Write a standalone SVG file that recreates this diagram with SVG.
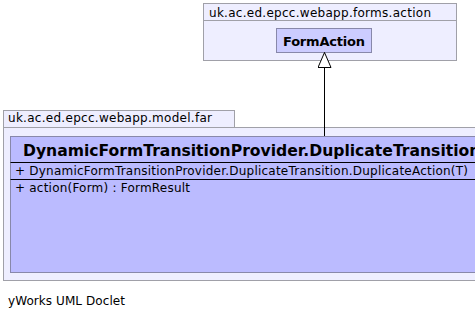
<svg xmlns="http://www.w3.org/2000/svg" width="475" height="319" viewBox="0 0 475 319">
  <style>
    .pkg { fill: #eeeeff; stroke: #a0a0a8; stroke-width: 1; }
    .cls { fill: #bbbbff; stroke: #8888aa; stroke-width: 1; }
    .sep { stroke: #000000; stroke-width: 1; }
    .pkglabel { font-family: "DejaVu Sans", Verdana, sans-serif; font-size: 12px; fill: #000; }
    .title { font-family: "DejaVu Sans", Verdana, sans-serif; font-weight: bold; fill: #000; }
    .member { font-family: "DejaVu Sans", Verdana, sans-serif; font-size: 12px; fill: #000; }
    .edge { stroke: #000; stroke-width: 1; fill: none; }
  </style>
  <defs>
    <!-- hollow triangle for generalization, drawn along +x -->
    <marker id="inherit" markerWidth="17" markerHeight="14" refX="16" refY="7" orient="auto" markerUnits="userSpaceOnUse" viewBox="0 0 17 14">
      <path d="M16 7 L1 0.5 L1 13.5 Z" fill="#ffffff" stroke="#000" stroke-width="1"/>
    </marker>
  </defs>

  <rect width="475" height="319" fill="#ffffff"/>

  <!-- package uk.ac.ed.epcc.webapp.forms.action -->
  <g id="pkg-forms-action">
    <rect class="pkg" x="203.5" y="3.5" width="253" height="57"/>
    <line x1="203.5" y1="20.5" x2="456.5" y2="20.5" stroke="#a0a0a8"/>
    <text class="pkglabel" x="209" y="16.5" textLength="222">uk.ac.ed.epcc.webapp.forms.action</text>
  </g>

  <!-- class FormAction -->
  <g id="FormAction">
    <rect x="276.5" y="28.5" width="95" height="24" fill="#ccccff" stroke="#8888aa"/>
    <text class="title" font-size="13" x="283" y="45.5" textLength="82">FormAction</text>
  </g>

  <!-- package uk.ac.ed.epcc.webapp.model.far -->
  <g id="pkg-model-far">
    <rect class="pkg" x="3.5" y="110.5" width="231" height="17"/>
    <rect class="pkg" x="3.5" y="127.5" width="480" height="153"/>
    <text class="pkglabel" x="8" y="122" textLength="204">uk.ac.ed.epcc.webapp.model.far</text>
  </g>

  <!-- class DynamicFormTransitionProvider.DuplicateTransition -->
  <g id="DuplicateTransition">
    <rect class="cls" x="10.5" y="136.5" width="480" height="136"/>
    <text class="title" font-size="15.6" x="23" y="156">DynamicFormTransitionProvider.DuplicateTransition</text>
    <line class="sep" x1="10.5" y1="162.5" x2="475" y2="162.5"/>
    <text class="member" x="15" y="175" textLength="453">+ DynamicFormTransitionProvider.DuplicateTransition.DuplicateAction(T)</text>
    <line class="sep" x1="10.5" y1="179.5" x2="475" y2="179.5"/>
    <text class="member" x="15" y="192" textLength="175">+ action(Form) : FormResult</text>
  </g>

  <!-- connectors -->
  <g id="connectors">
    <line class="edge" x1="324.5" y1="136" x2="324.5" y2="52.5" marker-end="url(#inherit)"/>
  </g>

  <text class="member" x="8" y="305" textLength="117">yWorks UML Doclet</text>
</svg>
